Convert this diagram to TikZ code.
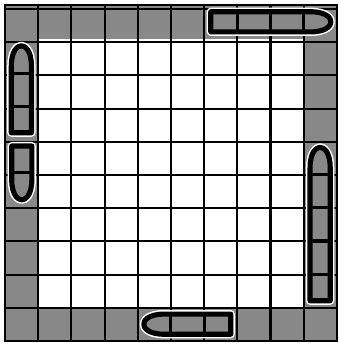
\documentclass[tikz,border=0pt]{standalone}
\usepackage{tikz}
\usetikzlibrary{calc}
\definecolor{speckle}{RGB}{136,136,136}
\tikzset{
  cellgrey/.style={fill=speckle},
  gridline/.style={draw=black,line width=1.8pt},
  frameline/.style={draw=black,line width=2.4pt},
  halo/.style={draw=white,line width=7pt,line join=round},
  hull/.style={draw=black,fill=speckle,line width=4.4pt,line join=round},
  bulkhead/.style={draw=black,line width=2.6pt},
}
% one ship of #1 cells along local x, tip at the right end
\newcommand{\shiphull}[1]{
  (0.2,0.2) -- (#1-0.8,0.2)
  .. controls (#1-0.3,0.2) and (#1-0.18,0.4) .. (#1-0.18,0.5)
  .. controls (#1-0.18,0.6) and (#1-0.3,0.8) .. (#1-0.8,0.8)
  -- (0.2,0.8) -- cycle}

\begin{document}
\begin{tikzpicture}[x=1cm,y=1.012cm]

  \useasboundingbox (-0.15,-0.12) rectangle (10.06,10.15);

  % --- rand gri si interior alb -------------------------------------------
  \fill[cellgrey] (0,0) rectangle (10,10);
  \fill[white]    (1,1) rectangle (9,9);

  % --- grila ---------------------------------------------------------------
  \draw[gridline]  (0,0) grid (10,10);
  \draw[frameline] (0,0) rectangle (10,10);

  % --- nave: deplasare / rotire / lungime ----------------------------------
  \foreach \sx/\sy/\rot/\len in {6/9/0/4, 1/6/90/3, 0/6/-90/2, 10/1/90/5, 7/1/180/3}{
    \begin{scope}[shift={(\sx,\sy)},rotate=\rot]
      \draw[halo] \shiphull{\len};
      \draw[hull] \shiphull{\len};
      \foreach \k in {1,...,\numexpr\len-1\relax}
        \draw[bulkhead] (\k,0.2) -- (\k,0.8);
    \end{scope}
  }

\end{tikzpicture}
\end{document}
